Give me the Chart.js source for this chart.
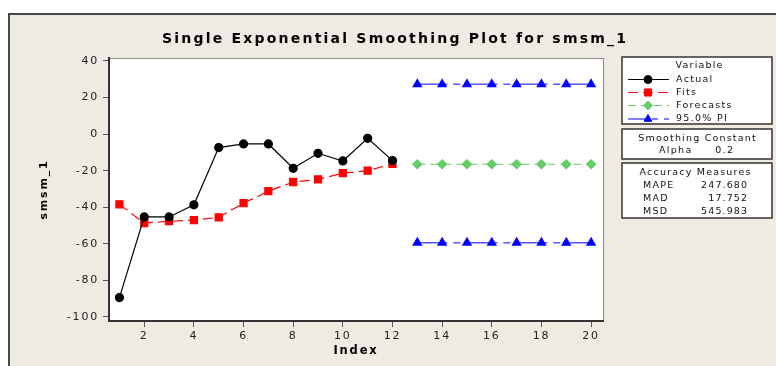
<!DOCTYPE html>
<html>
<head>
<meta charset="utf-8">
<script src="https://cdn.jsdelivr.net/npm/chart.js"></script>
<style>
  html, body { margin: 0; padding: 0; background: #fff; }
  canvas { display: block; }
</style>
</head>
<body>
<canvas id="smooth" width="776" height="366"></canvas>
<script>
const index = [1, 2, 3, 4, 5, 6, 7, 8, 9, 10, 11, 12];
const actual = [-89.4, -45.3, -45.3, -38.7, -7.4, -5.4, -5.4, -18.7, -10.5, -14.7, -2.3, -14.5];
const fits = [-38.4, -48.7, -47.6, -47.1, -45.5, -37.8, -31.2, -26.2, -24.8, -21.4, -20.0, -16.3];
const forecastIndex = [13, 14, 15, 16, 17, 18, 19, 20];
const forecasts = [-16.5, -16.5, -16.5, -16.5, -16.5, -16.5, -16.5, -16.5];
const upperPI = [27.2, 27.2, 27.2, 27.2, 27.2, 27.2, 27.2, 27.2];
const lowerPI = [-59.4, -59.4, -59.4, -59.4, -59.4, -59.4, -59.4, -59.4];
const xTicks = [2, 4, 6, 8, 10, 12, 14, 16, 18, 20];
const yTicks = [40, 20, 0, -20, -40, -60, -80, -100];
const legendLabels = ['Actual', 'Fits', 'Forecasts', '95.0% PI'];
const alpha = '0.2';
const measureNames = ['MAPE', 'MAD', 'MSD'];
const measureValues = ['247.680', '17.752', '545.983'];

const FONT = '"DejaVu Sans", Verdana, sans-serif';
const pts = (xs, ys) => xs.map((x, i) => ({x: x, y: ys[i]}));

function put(ctx, s, x, y, font, align, sp) {
  ctx.font = font;
  ctx.letterSpacing = sp + 'px';
  ctx.textAlign = align;
  ctx.textBaseline = 'middle';
  const dx = align === 'center' ? sp / 2 : align === 'right' ? sp : 0;
  ctx.fillText(s, x + dx, y);
}

function marker(ctx, ds, x, y) {
  ctx.setLineDash([]);
  ctx.fillStyle = ds.pointBackgroundColor;
  ctx.strokeStyle = ds.pointBorderColor;
  ctx.lineWidth = 1;
  Chart.helpers.drawPoint(ctx, {pointStyle: ds.pointStyle, radius: ds.pointRadius, rotation: 0, borderWidth: 1}, x, y);
}

const frame = {
  id: 'frame',
  beforeLayout(chart) { chart.ctx.letterSpacing = '1.8px'; },
  beforeDraw(chart) {
    const {ctx, chartArea: a, width, height} = chart;
    ctx.save();
    ctx.fillStyle = '#ffffff';
    ctx.fillRect(0, 0, width, height);
    ctx.fillStyle = '#efebe2';
    ctx.fillRect(8, 13, width - 8, height - 13);
    ctx.strokeStyle = '#484848';
    ctx.lineWidth = 2;
    ctx.beginPath();
    ctx.moveTo(9, height);
    ctx.lineTo(9, 14);
    ctx.lineTo(width, 14);
    ctx.stroke();
    ctx.fillStyle = '#ffffff';
    ctx.fillRect(a.left, a.top, a.right - a.left, a.bottom - a.top);
    ctx.strokeStyle = '#8c8c8c';
    ctx.lineWidth = 1;
    ctx.strokeRect(a.left + 0.5, a.top + 0.5, a.right - a.left, a.bottom - a.top);
    ctx.restore();
    ctx.letterSpacing = '1.8px';
  },
  afterDraw(chart) {
    const ctx = chart.ctx;
    const dsets = chart.data.datasets;
    ctx.save();
    ctx.fillStyle = '#000';

    // title, stretched to the reference width
    const title = 'Single Exponential Smoothing Plot for smsm_1';
    const tf = 'bold 14px ' + FONT;
    ctx.font = tf;
    ctx.letterSpacing = '0px';
    const w = ctx.measureText(title).width;
    const sp = (464 - w) / (title.length - 1);
    put(ctx, title, 162, 39, tf, 'left', sp);

    // boxes
    ctx.strokeStyle = '#333';
    ctx.lineWidth = 1.5;
    ctx.fillStyle = '#ffffff';
    [[622, 57, 150, 67], [622, 129, 150, 30], [622, 163, 150, 55]].forEach(b => {
      ctx.fillRect(b[0], b[1], b[2], b[3]);
      ctx.strokeRect(b[0], b[1], b[2], b[3]);
    });

    const f = '9.5px ' + FONT;
    ctx.fillStyle = '#111';
    put(ctx, 'Variable', 699, 66, f, 'center', 1.2);
    const rows = [79.5, 92.5, 105.5, 119];
    legendLabels.forEach((lab, i) => {
      const ds = dsets[i];
      const y = rows[i];
      ctx.setLineDash(i === 3 ? [18, 6, 6, 6] : (ds.borderDash || []));
      ctx.strokeStyle = ds.borderColor;
      ctx.lineWidth = ds.borderWidth;
      ctx.beginPath();
      ctx.moveTo(628, y);
      ctx.lineTo(669, y);
      ctx.stroke();
      marker(ctx, ds, 648, y);
      ctx.fillStyle = '#111';
      put(ctx, lab, 676, y, f, 'left', 1.3);
    });

    put(ctx, 'Smoothing Constant', 697, 139, f, 'center', 1.2);
    put(ctx, 'Alpha', 659, 150.5, f, 'left', 1.3);
    put(ctx, alpha, 733, 150.5, f, 'right', 1.3);

    put(ctx, 'Accuracy Measures', 695, 172.5, f, 'center', 1.2);
    measureNames.forEach((n, i) => {
      const y = 185.5 + i * 13;
      put(ctx, n, 643, y, f, 'left', 1.3);
      put(ctx, measureValues[i], 747, y, f, 'right', 1.1);
    });
    ctx.restore();
  }
};

new Chart('smooth', {
  type: 'line',
  data: {
    datasets: [{
      label: 'Actual',
      data: pts(index, actual),
      borderColor: '#000000',
      borderWidth: 1.2,
      pointStyle: 'circle',
      pointRadius: 4,
      pointBackgroundColor: '#000000',
      pointBorderColor: '#000000',
    }, {
      label: 'Fits',
      data: pts(index, fits),
      borderColor: '#ff0000',
      borderWidth: 1.2,
      borderDash: [10, 5],
      pointStyle: 'rect',
      pointRadius: 5,
      pointBackgroundColor: '#ff0000',
      pointBorderColor: '#ff0000',
    }, {
      label: 'Forecasts',
      data: pts(forecastIndex, forecasts),
      borderColor: '#66cc66',
      borderWidth: 1.2,
      borderDash: [8, 5],
      pointStyle: 'rectRot',
      pointRadius: 4.5,
      pointBackgroundColor: '#66cc66',
      pointBorderColor: '#66cc66',
    }, {
      label: '95.0% PI',
      data: pts(forecastIndex, upperPI),
      borderColor: '#5555ff',
      borderWidth: 1.5,
      borderDash: [30, 6, 7, 7],
      pointStyle: 'triangle',
      pointRadius: 4.5,
      pointBackgroundColor: '#0000ff',
      pointBorderColor: '#0000ff',
    }, {
      label: '95.0% PI lower',
      data: pts(forecastIndex, lowerPI),
      borderColor: '#5555ff',
      borderWidth: 1.5,
      borderDash: [30, 6, 7, 7],
      pointStyle: 'triangle',
      pointRadius: 4.5,
      pointBackgroundColor: '#0000ff',
      pointBorderColor: '#0000ff',
    }]
  },
  options: {
    responsive: false,
    animation: false,
    layout: {padding: {left: 0, top: 58, right: 173, bottom: 0}},
    plugins: {legend: {display: false}, tooltip: {enabled: false}},
    scales: {
      x: {
        type: 'linear',
        min: 0.58,
        max: 20.48,
        afterBuildTicks: s => { s.ticks = xTicks.map(v => ({value: v})); },
        afterFit: s => { s.height = 45; },
        ticks: {autoSkip: false, maxRotation: 0, padding: 3, color: '#222', font: {family: FONT, size: 11}},
        grid: {display: true, drawOnChartArea: false, drawTicks: true, tickLength: 6, color: '#555'},
        border: {color: '#333', width: 2},
        title: {display: true, text: 'Index', color: '#000', font: {family: FONT, size: 11.5, weight: 'bold'}, padding: {top: 0, bottom: 8}}
      },
      y: {
        min: -102.2,
        max: 41.6,
        afterBuildTicks: s => { s.ticks = yTicks.map(v => ({value: v})); },
        afterFit: s => { s.width = 109; },
        ticks: {padding: 4, color: '#222', font: {family: FONT, size: 11}},
        grid: {display: true, drawOnChartArea: false, drawTicks: true, tickLength: 6, color: '#555'},
        border: {color: '#333', width: 2},
        title: {display: true, text: 'smsm_1', color: '#000', font: {family: FONT, size: 11, weight: 'bold'}, padding: {top: 38, bottom: 0}}
      }
    }
  },
  plugins: [frame]
});
</script>
</body>
</html>
